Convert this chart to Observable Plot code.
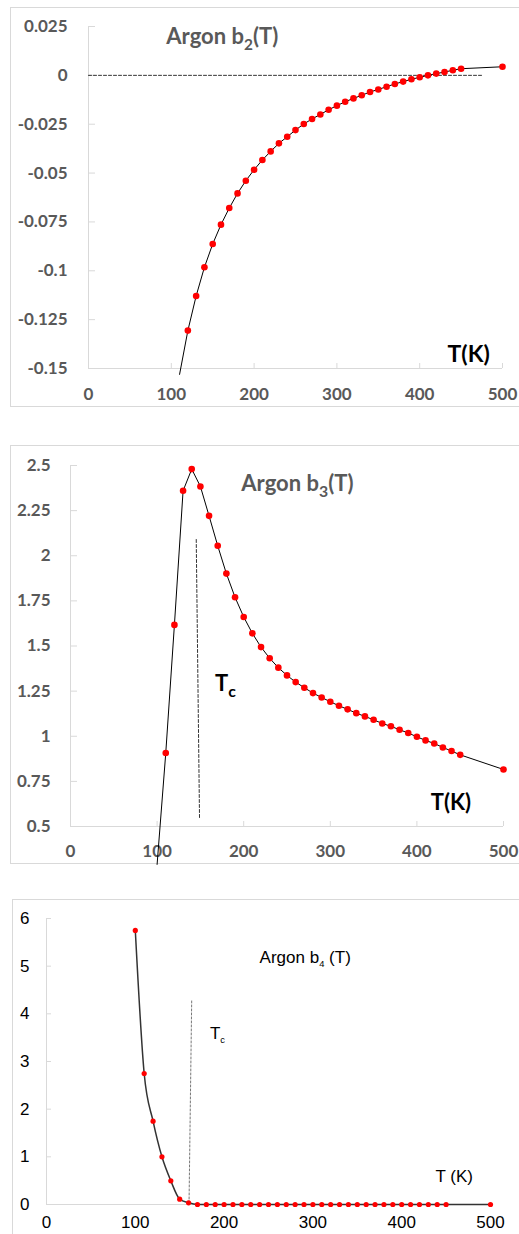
<!DOCTYPE html>
<html><head><meta charset="utf-8">
<script src="https://cdn.jsdelivr.net/npm/d3@7"></script>
<script src="https://cdn.jsdelivr.net/npm/@observablehq/plot@0.6"></script>
<style>
html,body{margin:0;padding:0;background:#fff;}
body{width:519px;height:1234px;position:relative;overflow:hidden;}
.frame{position:absolute;border:1px solid #d9d9d9;box-sizing:border-box;}
.panel{position:absolute;left:0;}
.panel svg{overflow:visible;background:transparent;}
#p1 text, #p2 text{font-weight:bold;}
</style></head><body>
<div class="frame" style="left:10px;top:7px;width:600px;height:400px"></div>
<div class="frame" style="left:10px;top:445px;width:600px;height:419px"></div>
<div class="frame" style="left:12px;top:899px;width:600px;height:400px"></div>
<div class="panel" id="p1" style="top:0px"></div>
<div class="panel" id="p2" style="top:445px"></div>
<div class="panel" id="p3" style="top:899px"></div>
<script>
// ---------- data ----------
// Panel 1: Argon b2(T)
const T2 = [120,130,140,150,160,170,180,190,200,210,220,230,240,250,260,270,280,290,300,310,320,330,340,350,360,370,380,390,400,410,420,430,440,450,500];
const b2 = [-0.1306,-0.1129,-0.0982,-0.0863,-0.0764,-0.0679,-0.0604,-0.0539,-0.0483,-0.0433,-0.0389,-0.0348,-0.0314,-0.0280,-0.0249,-0.0223,-0.0200,-0.0176,-0.0155,-0.0135,-0.0118,-0.0102,-0.0085,-0.0072,-0.0058,-0.0044,-0.0032,-0.0020,-0.0010,0.0000,0.0009,0.0017,0.0026,0.0034,0.0044];
const T2lineStart = [110];
const b2lineStart = [-0.153];
const zeroLineT = [0, 475];
const zeroLineV = [0, 0];
const xTicks = [0,100,200,300,400,500];
const yTicks1 = [0.025,0,-0.025,-0.05,-0.075,-0.1,-0.125,-0.15];

// Panel 2: Argon b3(T)
const T3 = [110,120,130,140,150,160,170,180,190,200,210,220,230,240,250,260,270,280,290,300,310,320,330,340,350,360,370,380,390,400,410,420,430,440,450,500];
const b3 = [0.907,1.617,2.36,2.48,2.384,2.221,2.055,1.901,1.770,1.661,1.570,1.494,1.432,1.380,1.337,1.300,1.269,1.239,1.215,1.191,1.169,1.149,1.128,1.110,1.091,1.071,1.055,1.036,1.018,0.997,0.977,0.960,0.938,0.918,0.897,0.816];
const T3lineStart = [100];
const b3lineStart = [0.29];
const tc3T = [145.2, 149];
const tc3V = [2.09, 0.54];
const yTicks2 = [2.5,2.25,2,1.75,1.5,1.25,1,0.75,0.5];

// Panel 3: Argon b4(T)
const T4 = [100,110,120,130,140,150,160,170,180,190,200,210,220,230,240,250,260,270,280,290,300,310,320,330,340,350,360,370,380,390,400,410,420,430,440,450,500];
const b4 = [5.75,2.748,1.748,1.0,0.497,0.112,0.035,0,0,0,0,0,0,0,0,0,0,0,0,0,0,0,0,0,0,0,0,0,0,0,0,0,0,0,0,0,0];
const tc4T = [163.5, 160.5];
const tc4V = [4.27, 0];
const yTicks3 = [0,1,2,3,4,5,6];

// annotation anchors (data units)
const labels1 = [{text:"Argon b_2(T)", T:94, v:0.0194}];
const axisLab1 = [{text:"T(K)", T:433.6, v:-0.143}];
const labels2 = [{text:"Argon b_3(T)", T:197.3, v:2.397}];
const axisLab2 = [{text:"T(K)", T:416, v:0.631}, {text:"T_c", T:166.8, v:1.29}];
const labels3 = [{text:"Argon b_4 (T)", T:240, v:5.18}, {text:"T_c", T:184, v:3.59}, {text:"T (K)", T:438, v:0.587}];

// ---------- helpers ----------
const zip = (xs, ys) => xs.map((T, i) => ({T, v: ys[i]}));
const W = 519;
const fmt = d => String(d);

function subify(svg, ratio, shiftRatio) {
  const ns = "http://www.w3.org/2000/svg";
  svg.querySelectorAll("text").forEach(t => {
    const s = t.textContent;
    const m = s.match(/^(.*)_(.)(.*)$/);
    if (!m) return;
    const fs = parseFloat(getComputedStyle(t).fontSize) || 16;
    const shift = Math.round(fs * shiftRatio);
    t.textContent = "";
    const a = document.createElementNS(ns, "tspan"); a.textContent = m[1];
    const b = document.createElementNS(ns, "tspan"); b.textContent = m[2];
    b.setAttribute("dy", shift + "px"); b.setAttribute("font-size", (fs * ratio) + "px");
    t.appendChild(a); t.appendChild(b);
    if (m[3]) {
      const c = document.createElementNS(ns, "tspan"); c.textContent = m[3];
      c.setAttribute("dy", (-shift) + "px");
      t.appendChild(c);
    }
  });
}

// ---------- panel 1 ----------
{
  const h = 406, mL = 88, mR = 17, mT = 26, mB = 38;
  const iw = W - mL - mR, ih = h - mT - mB;
  const svg = Plot.plot({
    width: W, height: h, marginLeft: mL, marginRight: mR, marginTop: mT, marginBottom: mB,
    x: {domain: [0, 500]}, y: {domain: [-0.15, 0.025]},
    style: {fontFamily: "Lato, sans-serif", fontWeight: "bold", background: "transparent", overflow: "visible"},
    marks: [
      Plot.ruleX([0], {stroke: "#d9d9d9"}),
      Plot.ruleY([-0.15], {stroke: "#d9d9d9"}),
      Plot.tickY(yTicks1, {y: d => d, insetRight: iw - 7, stroke: "#d9d9d9"}),
      Plot.tickX(xTicks, {x: d => d, insetTop: ih - 5, stroke: "#d9d9d9"}),
      Plot.axisY(yTicks1, {tickSize: 0, tickPadding: 21, tickFormat: fmt, fontSize: 17, color: "#595959", label: null}),
      Plot.axisX(xTicks, {tickSize: 0, tickPadding: 19, tickFormat: fmt, fontSize: 17, color: "#595959", label: null}),
      Plot.line(zip(zeroLineT, zeroLineV), {x: "T", y: "v", stroke: "#333", strokeWidth: 1, strokeDasharray: "3,2"}),
      Plot.line(zip(T2lineStart, b2lineStart).concat(zip(T2, b2)), {x: "T", y: "v", stroke: "black", strokeWidth: 1}),
      Plot.dot(zip(T2, b2), {x: "T", y: "v", r: 3.3, fill: "red", stroke: "none"}),
      Plot.text(labels1, {x: "T", y: "v", text: "text", textAnchor: "start", fontSize: 22, fill: "#595959"}),
      Plot.text(axisLab1, {x: "T", y: "v", text: "text", textAnchor: "start", fontSize: 23, fill: "black"})
    ]
  });
  document.getElementById("p1").appendChild(svg);
  subify(svg, 0.7, 0.28);
}

// ---------- panel 2 ----------
{
  const h = 418, mL = 70, mR = 16, mT = 20, mB = 37;
  const iw = W - mL - mR, ih = h - mT - mB;
  const svg = Plot.plot({
    width: W, height: h, marginLeft: mL, marginRight: mR, marginTop: mT, marginBottom: mB,
    x: {domain: [0, 500]}, y: {domain: [0.5, 2.5]},
    style: {fontFamily: "Lato, sans-serif", fontWeight: "bold", background: "transparent", overflow: "visible"},
    marks: [
      Plot.ruleX([0], {stroke: "#d9d9d9"}),
      Plot.ruleY([0.5], {stroke: "#d9d9d9"}),
      Plot.tickY(yTicks2, {y: d => d, insetRight: iw - 7, stroke: "#d9d9d9"}),
      Plot.tickX(xTicks, {x: d => d, insetTop: ih - 5, stroke: "#d9d9d9"}),
      Plot.axisY(yTicks2, {tickSize: 0, tickPadding: 20, tickFormat: fmt, fontSize: 17, color: "#595959", label: null}),
      Plot.axisX(xTicks, {tickSize: 0, tickPadding: 18, tickFormat: fmt, fontSize: 17, color: "#595959", label: null}),
      Plot.line(zip(tc3T, tc3V), {x: "T", y: "v", stroke: "#333", strokeWidth: 1, strokeDasharray: "3,2"}),
      Plot.line(zip(T3lineStart, b3lineStart).concat(zip(T3, b3)), {x: "T", y: "v", stroke: "black", strokeWidth: 1}),
      Plot.dot(zip(T3, b3), {x: "T", y: "v", r: 3.3, fill: "red", stroke: "none"}),
      Plot.text(labels2, {x: "T", y: "v", text: "text", textAnchor: "start", fontSize: 22, fill: "#595959"}),
      Plot.text(axisLab2, {x: "T", y: "v", text: "text", textAnchor: "start", fontSize: 22, fill: "black"})
    ]
  });
  document.getElementById("p2").appendChild(svg);
  subify(svg, 0.72, 0.25);
}

// ---------- panel 3 ----------
{
  const h = 335, mL = 46, mR = 29, mT = 19, mB = 30;
  const iw = W - mL - mR, ih = h - mT - mB;
  const svg = Plot.plot({
    width: W, height: h, marginLeft: mL, marginRight: mR, marginTop: mT, marginBottom: mB,
    x: {domain: [0, 500]}, y: {domain: [0, 6]},
    style: {fontFamily: "'Liberation Sans', Arial, sans-serif", background: "transparent", overflow: "visible"},
    marks: [
      Plot.ruleX([0], {stroke: "#d9d9d9"}),
      Plot.ruleY([0], {stroke: "#d9d9d9"}),
      Plot.tickY(yTicks3, {y: d => d, insetRight: iw - 5, stroke: "#d9d9d9"}),
      Plot.axisY(yTicks3, {tickSize: 0, tickPadding: 17, tickFormat: fmt, fontSize: 17, color: "black", label: null}),
      Plot.axisX(xTicks, {tickSize: 0, tickPadding: 11, tickFormat: fmt, fontSize: 17, color: "black", label: null}),
      Plot.line(zip(tc4T, tc4V), {x: "T", y: "v", stroke: "#777", strokeWidth: 1, strokeDasharray: "2,2"}),
      Plot.line(zip(T4, b4), {x: "T", y: "v", stroke: "#333", strokeWidth: 1.5, curve: "monotone-x"}),
      Plot.dot(zip(T4, b4), {x: "T", y: "v", r: 2.6, fill: "red", stroke: "none"}),
      Plot.text(labels3, {x: "T", y: "v", text: "text", textAnchor: "start", fontSize: 17, fill: "black"})
    ]
  });
  document.getElementById("p3").appendChild(svg);
  subify(svg, 0.55, 0.25);
}
</script>
</body></html>
